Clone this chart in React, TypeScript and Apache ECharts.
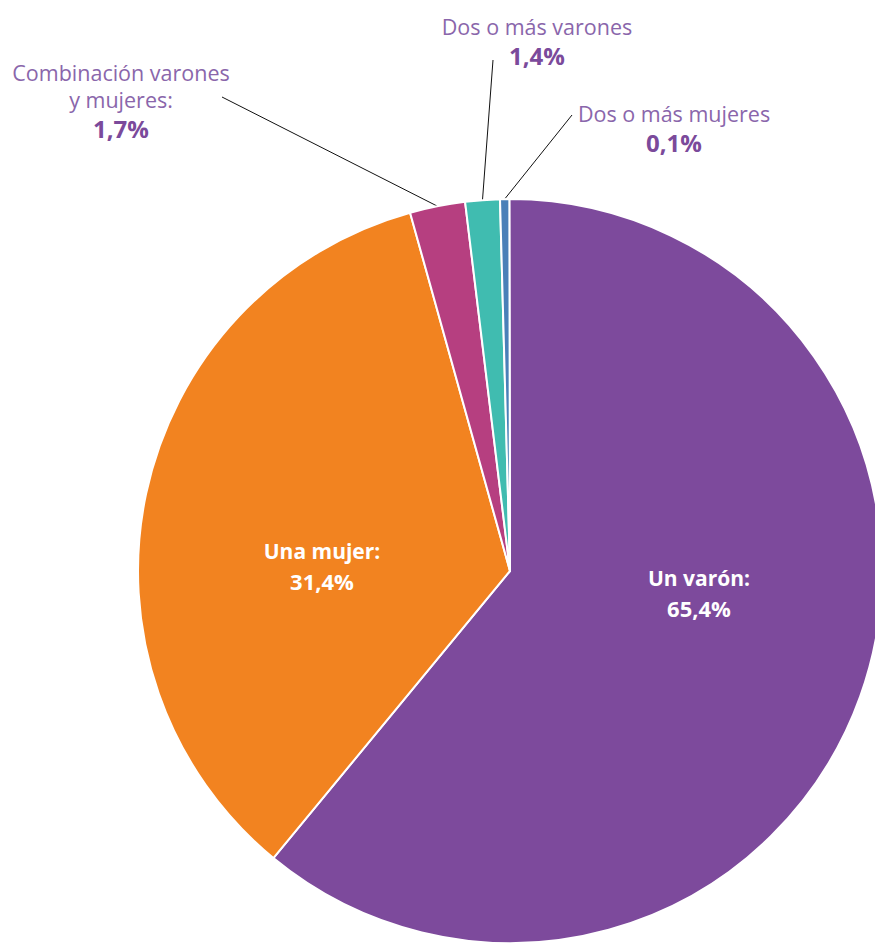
import React, { useEffect, useRef } from 'react';
import * as echarts from 'echarts';

const categories = ['Un varón', 'Una mujer', 'Combinación varones y mujeres', 'Dos o más varones', 'Dos o más mujeres'];
const labelNames = ['Un varón:', 'Una mujer:', 'Combinación varones\ny mujeres:', 'Dos o más varones', 'Dos o más mujeres'];
const labelPercents = [65.4, 31.4, 1.7, 1.4, 0.1];
// slice sizes as drawn in the picture (share of the circle, %)
const sliceValues = [61.0, 34.7, 2.4, 1.5, 0.4];
const colors = ['#7d4a9c', '#f28320', '#b63f80', '#40bcb0', '#4a80b8'];

const FONT = 'Open Sans';
const labelCenters: number[][] = [[699, 593], [322, 566], [121, 101], [537, 42], [674, 129]];
const lineEnds: (number[] | null)[] = [null, null, [222, 97], [493, 60], [572, 115]];

const fmtPct = (v: number) => v.toFixed(1).replace('.', ',') + '%';

export default function App() {
  const ref = useRef<HTMLDivElement>(null);
  useEffect(() => {
    document.body.style.margin = '0';
    if (!ref.current) return;
    const chart = echarts.init(ref.current, null, { renderer: 'svg' });
    const insideRich = {
      n: { color: '#ffffff', fontWeight: 'bold', fontSize: 21, lineHeight: 29, fontFamily: FONT },
      p: { color: '#ffffff', fontWeight: 'bold', fontSize: 22, lineHeight: 30, fontFamily: FONT },
    };
    const outsideRich = {
      n: { color: '#8a66ab', fontSize: 21.5, lineHeight: 27, fontFamily: FONT },
      p: { color: '#7b4a9b', fontWeight: 'bold', fontSize: 24, lineHeight: 31, fontFamily: FONT },
    };
    const data = categories.map((name, i) => {
      const inside = i < 2;
      return {
        name,
        value: sliceValues[i],
        itemStyle: { color: colors[i] },
        label: {
          show: true,
          position: inside ? 'inside' : 'outside',
          align: 'center',
          rich: inside ? insideRich : outsideRich,
          formatter: () =>
            labelNames[i].split('\n').map((l) => `{n|${l}}`).join('\n') + `\n{p|${fmtPct(labelPercents[i])}}`,
        },
        labelLine: inside
          ? { show: false }
          : { show: true, length: 20, length2: 20, smooth: false, lineStyle: { color: '#111111', width: 1 } },
      };
    });
    chart.setOption({
      animation: false,
      backgroundColor: '#ffffff',
      series: [
        {
          type: 'pie',
          center: [510, 571],
          radius: 372,
          startAngle: 90.1,
          clockwise: true,
          avoidLabelOverlap: false,
          itemStyle: { borderColor: '#ffffff', borderWidth: 2 },
          emphasis: { disabled: true },
          data,
          labelLayout: (params: any) => {
            const i = params.dataIndex;
            const c = labelCenters[i];
            const res: any = { x: c[0], y: c[1], align: 'center', verticalAlign: 'middle' };
            const end = lineEnds[i];
            if (end && params.labelLinePoints && params.labelLinePoints[0]) {
              const s = params.labelLinePoints[0];
              res.labelLinePoints = [s, end, end];
            }
            return res;
          },
        },
      ],
    });
    return () => chart.dispose();
  }, []);
  return <div ref={ref} style={{ width: 875, height: 943 }} />;
}
